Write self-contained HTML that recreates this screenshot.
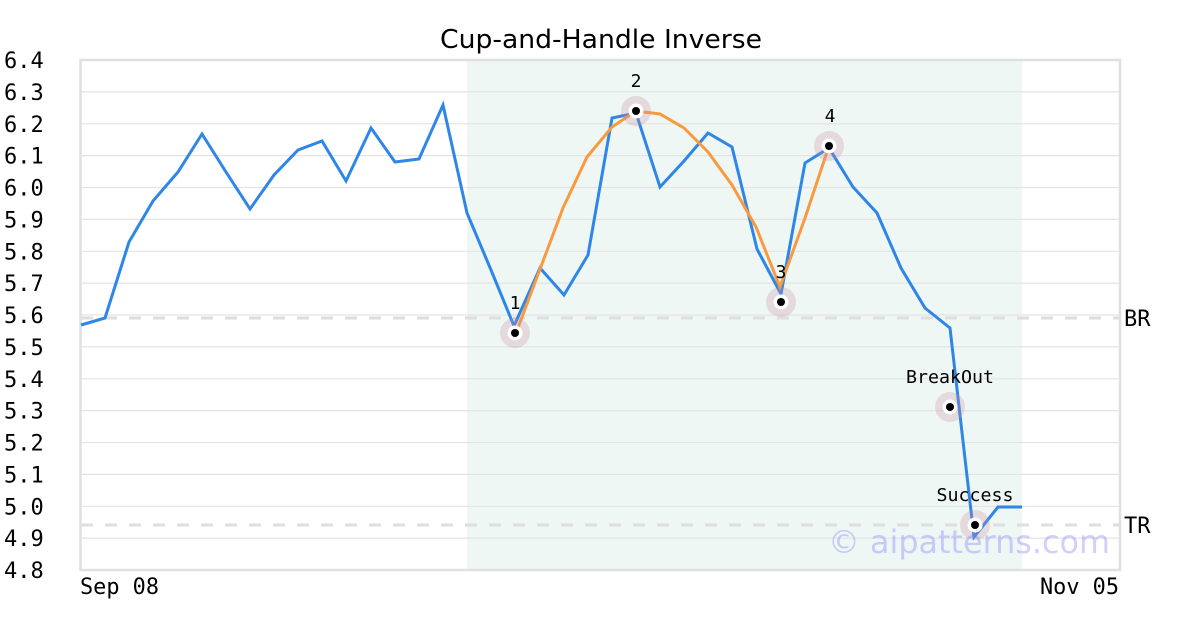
<!DOCTYPE html>
<html>
<head>
<meta charset="utf-8">
<style>
html,body{margin:0;padding:0;background:#fff;}
svg{display:block;}
</style>
</head>
<body>
<svg width="1200" height="630" viewBox="0 0 1200 630" xmlns="http://www.w3.org/2000/svg">
  <rect x="0" y="0" width="1200" height="630" fill="#ffffff"/>
  <!-- shaded pattern region -->
  <rect x="467" y="60" width="555" height="510" fill="#eff7f4"/>
  <!-- gridlines -->
  <g stroke="#e4e4e4" stroke-width="1.2">
    <line x1="81" y1="91.9" x2="1120" y2="91.9"/>
    <line x1="81" y1="123.8" x2="1120" y2="123.8"/>
    <line x1="81" y1="155.6" x2="1120" y2="155.6"/>
    <line x1="81" y1="187.5" x2="1120" y2="187.5"/>
    <line x1="81" y1="219.4" x2="1120" y2="219.4"/>
    <line x1="81" y1="251.3" x2="1120" y2="251.3"/>
    <line x1="81" y1="283.1" x2="1120" y2="283.1"/>
    <line x1="81" y1="315" x2="1120" y2="315"/>
    <line x1="81" y1="346.9" x2="1120" y2="346.9"/>
    <line x1="81" y1="378.8" x2="1120" y2="378.8"/>
    <line x1="81" y1="410.6" x2="1120" y2="410.6"/>
    <line x1="81" y1="442.5" x2="1120" y2="442.5"/>
    <line x1="81" y1="474.4" x2="1120" y2="474.4"/>
    <line x1="81" y1="506.3" x2="1120" y2="506.3"/>
    <line x1="81" y1="538.1" x2="1120" y2="538.1"/>
  </g>
  <!-- BR / TR dashed lines -->
  <g stroke="#dedede" stroke-width="3" stroke-dasharray="12 12">
    <line x1="81" y1="318" x2="1120" y2="318"/>
    <line x1="81" y1="525" x2="1120" y2="525"/>
  </g>
  <!-- border -->
  <rect x="80.5" y="60" width="1039.5" height="510" fill="none" stroke="#e0e0e0" stroke-width="2.5"/>

  <!-- blue price line -->
  <polyline fill="none" stroke="#2e86e8" stroke-width="3" stroke-linejoin="miter"
    points="81,325 105,318 129,242 153,201 178,172 202,134 226,172 250,209 274,175 298,150 322,141 346,181 371,128 395,162 419,159 443,105 467,213 491,270 514,326 540,268 564,295 588,255 612,118 636,113 660,187 684,161 708,133 732,147 757,249 781,294 805,163 829,148 853,187 877,213 901,268 925,308 950,328 974,537 998,507 1022,507"/>
  <!-- orange cup line -->
  <polyline fill="none" stroke="#f89a40" stroke-width="3"
    points="516,333 563,208 587,157 612,127 636,111 660,114 684,128 708,152 732,185 756,227 780,287 805,218 829,146"/>

  <!-- markers -->
  <g>
    <g transform="translate(515,333)"><circle r="15" fill="rgba(200,140,160,0.28)"/><circle r="7.5" fill="#fff"/><circle r="4" fill="#000"/></g>
    <g transform="translate(636,111)"><circle r="15" fill="rgba(200,140,160,0.28)"/><circle r="7.5" fill="#fff"/><circle r="4" fill="#000"/></g>
    <g transform="translate(781,302)"><circle r="15" fill="rgba(200,140,160,0.28)"/><circle r="7.5" fill="#fff"/><circle r="4" fill="#000"/></g>
    <g transform="translate(829,146)"><circle r="15" fill="rgba(200,140,160,0.28)"/><circle r="7.5" fill="#fff"/><circle r="4" fill="#000"/></g>
    <g transform="translate(950,407)"><circle r="15" fill="rgba(200,140,160,0.28)"/><circle r="7.5" fill="#fff"/><circle r="4" fill="#000"/></g>
    <g transform="translate(975,525)"><circle r="15" fill="rgba(200,140,160,0.28)"/><circle r="7.5" fill="#fff"/><circle r="4" fill="#000"/></g>
  </g>

  <!-- marker labels -->
  <g font-family="'DejaVu Sans Mono', 'Liberation Mono', monospace" font-size="18" fill="#000" text-anchor="middle">
    <text x="515" y="309">1</text>
    <text x="636" y="87">2</text>
    <text x="781" y="278">3</text>
    <text x="830" y="122">4</text>
    <text x="950" y="383" textLength="88" lengthAdjust="spacingAndGlyphs">BreakOut</text>
    <text x="975" y="501" textLength="77" lengthAdjust="spacingAndGlyphs">Success</text>
  </g>

  <!-- watermark -->
  <text x="828" y="553" font-family="'DejaVu Sans', 'Liberation Sans', sans-serif" font-size="32" fill="rgba(120,120,255,0.35)" textLength="282" lengthAdjust="spacingAndGlyphs">© aipatterns.com</text>

  <!-- y-axis labels -->
  <g font-family="'DejaVu Sans Mono', 'Liberation Mono', monospace" font-size="22" fill="#000">
    <text x="4" y="68">6.4</text>
    <text x="4" y="99.9">6.3</text>
    <text x="4" y="131.8">6.2</text>
    <text x="4" y="163.6">6.1</text>
    <text x="4" y="195.5">6.0</text>
    <text x="4" y="227.4">5.9</text>
    <text x="4" y="259.3">5.8</text>
    <text x="4" y="291.1">5.7</text>
    <text x="4" y="323">5.6</text>
    <text x="4" y="354.9">5.5</text>
    <text x="4" y="386.8">5.4</text>
    <text x="4" y="418.6">5.3</text>
    <text x="4" y="450.5">5.2</text>
    <text x="4" y="482.4">5.1</text>
    <text x="4" y="514.3">5.0</text>
    <text x="4" y="546.1">4.9</text>
    <text x="4" y="578">4.8</text>
  </g>

  <!-- right labels -->
  <g font-family="'DejaVu Sans Mono', 'Liberation Mono', monospace" font-size="22" fill="#000">
    <text x="1124" y="326">BR</text>
    <text x="1124" y="533">TR</text>
  </g>

  <!-- x-axis labels -->
  <g font-family="'DejaVu Sans Mono', 'Liberation Mono', monospace" font-size="22" fill="#000">
    <text x="80" y="594" textLength="79" lengthAdjust="spacingAndGlyphs">Sep 08</text>
    <text x="1040" y="594" textLength="79" lengthAdjust="spacingAndGlyphs">Nov 05</text>
  </g>

  <!-- title -->
  <text x="601" y="48" text-anchor="middle" font-family="'DejaVu Sans', 'Liberation Sans', sans-serif" font-size="26" fill="#000" textLength="322" lengthAdjust="spacingAndGlyphs">Cup-and-Handle Inverse</text>
</svg>
</body>
</html>
